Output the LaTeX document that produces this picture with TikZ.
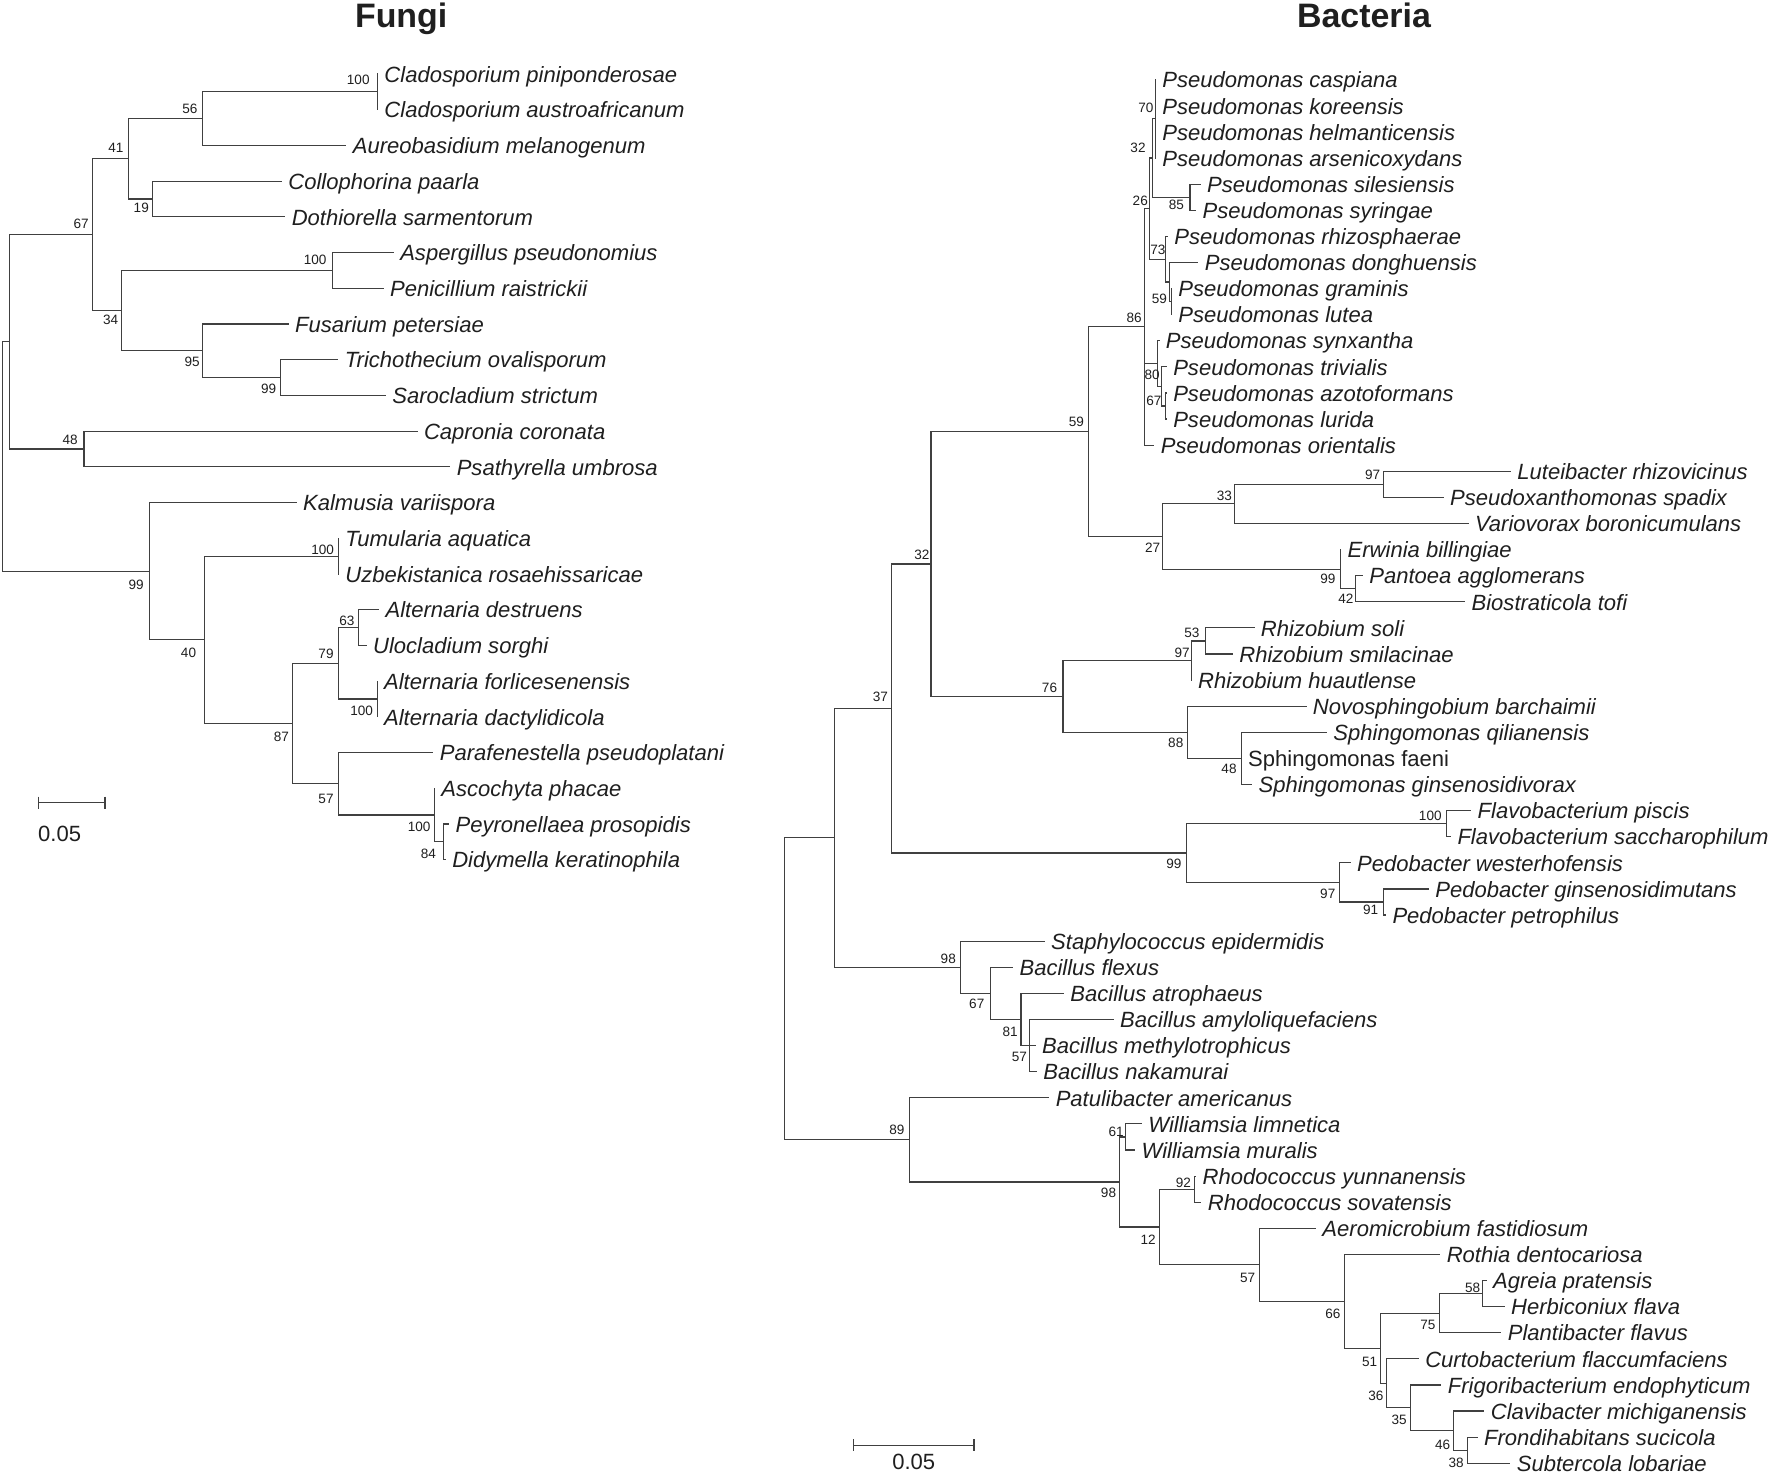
\documentclass[tikz,border=0pt]{standalone}
\usepackage{fontspec}
\setmainfont{Liberation Sans}
\begin{document}
\begin{tikzpicture}[x=1pt,y=-1pt,
  br/.style={draw=black!75,line width=1.0pt,line cap=rect},
  tick/.style={draw=black!75,line width=1.0pt},
  leaf/.style={anchor=base west,inner sep=0pt,xshift=6pt,yshift=-7.3pt,font=\fontsize{19.5}{20}\selectfont\itshape,text=black!88},
  leafup/.style={leaf,font=\fontsize{19.5}{20}\selectfont\upshape},
  bs/.style={inner sep=0pt,font=\fontsize{12}{12}\selectfont,text=black!88},
  ttl/.style={anchor=base,inner sep=0pt,font=\fontsize{30}{30}\selectfont\bfseries,text=black!88},
  scl/.style={inner sep=0pt,font=\fontsize{19.5}{20}\selectfont,text=black!88}
]
\useasboundingbox (0,0) rectangle (1568,1306);
\fill[white] (0,0) rectangle (1568,1306);

% ---------------- titles
\node[ttl] (tf) at (355,24.5) {Fungi};
\node[ttl] (tb) at (1207,24.5) {Bacteria};

% ================= FUNGI =================
\coordinate (F0) at (334,65.5);
\coordinate (F1) at (334,97.1);
\coordinate (F2) at (306,128.7);
\coordinate (F3) at (249,160.3);
\coordinate (F4) at (252,191.9);
\coordinate (F5) at (348,223.5);
\coordinate (F6) at (339,255.1);
\coordinate (F7) at (255,286.7);
\coordinate (F8) at (299,318.3);
\coordinate (F9) at (341,349.9);
\coordinate (F10) at (369,381.5);
\coordinate (F11) at (398,413.1);
\coordinate (F12) at (262,444.7);
\coordinate (F13) at (299.5,476.3);
\coordinate (F14) at (299.5,507.9);
\coordinate (F15) at (335,539.5);
\coordinate (F16) at (324,571.1);
\coordinate (F17) at (333.7,602.7);
\coordinate (F18) at (333.7,634.3);
\coordinate (F19) at (383,665.9);
\coordinate (F20) at (384.4,697.5);
\coordinate (F21) at (397,729.1);
\coordinate (F22) at (394,760.7);

\node[leaf] (tF0) at (F0) {Cladosporium piniponderosae};
\node[leaf] (tF1) at (F1) {Cladosporium austroafricanum};
\node[leaf] (tF2) at (F2) {Aureobasidium melanogenum};
\node[leaf] (tF3) at (F3) {Collophorina paarla};
\node[leaf] (tF4) at (F4) {Dothiorella sarmentorum};
\node[leaf] (tF5) at (F5) {Aspergillus pseudonomius};
\node[leaf] (tF6) at (F6) {Penicillium raistrickii};
\node[leaf] (tF7) at (F7) {Fusarium petersiae};
\node[leaf] (tF8) at (F8) {Trichothecium ovalisporum};
\node[leaf] (tF9) at (F9) {Sarocladium strictum};
\node[leaf] (tF10) at (F10) {Capronia coronata};
\node[leaf] (tF11) at (F11) {Psathyrella umbrosa};
\node[leaf] (tF12) at (F12) {Kalmusia variispora};
\node[leaf] (tF13) at (F13) {Tumularia aquatica};
\node[leaf] (tF14) at (F14) {Uzbekistanica rosaehissaricae};
\node[leaf] (tF15) at (F15) {Alternaria destruens};
\node[leaf] (tF16) at (F16) {Ulocladium sorghi};
\node[leaf] (tF17) at (F17) {Alternaria forlicesenensis};
\node[leaf] (tF18) at (F18) {Alternaria dactylidicola};
\node[leaf] (tF19) at (F19) {Parafenestella pseudoplatani};
\node[leaf] (tF20) at (F20) {Ascochyta phacae};
\node[leaf] (tF21) at (F21) {Peyronellaea prosopidis};
\node[leaf] (tF22) at (F22) {Didymella keratinophila};

\coordinate (fa100c) at (334,81.3);
\coordinate (fa56) at (179.5,105.0);
\coordinate (fa19) at (135,176.1);
\coordinate (fa41) at (114,140.55);
\coordinate (fa100a) at (294,239.3);
\coordinate (fa99t) at (248,334.1);
\coordinate (fa95) at (179.5,310.4);
\coordinate (fa34) at (107.7,274.85);
\coordinate (fa67) at (81.5,207.7);
\coordinate (fa48) at (74.3,397.3);
\coordinate (faR1) at (8.4,302.5);
\coordinate (fa100u) at (299.5,492.1);
\coordinate (fa63) at (317.2,555.3);
\coordinate (fa100f) at (333.7,618.5);
\coordinate (fa79) at (299.5,586.9);
\coordinate (fa84) at (392.8,744.9);
\coordinate (fa100s) at (384.4,721.2);
\coordinate (fa57) at (299.5,693.55);
\coordinate (fa87) at (259,640.2);
\coordinate (fa40) at (180.8,566.15);
\coordinate (fa99k) at (132,505.4);
\coordinate (faroot) at (2.1,404);

\draw[br] (fa100c) |- (F0) (fa100c) |- (F1);
\draw[br] (fa56) |- (fa100c) (fa56) |- (F2);
\draw[br] (fa19) |- (F3) (fa19) |- (F4);
\draw[br] (fa41) |- (fa56) (fa41) |- (fa19);
\draw[br] (fa100a) |- (F5) (fa100a) |- (F6);
\draw[br] (fa99t) |- (F8) (fa99t) |- (F9);
\draw[br] (fa95) |- (F7) (fa95) |- (fa99t);
\draw[br] (fa34) |- (fa100a) (fa34) |- (fa95);
\draw[br] (fa67) |- (fa41) (fa67) |- (fa34);
\draw[br] (fa48) |- (F10) (fa48) |- (F11);
\draw[br] (faR1) |- (fa67) (faR1) |- (fa48);
\draw[br] (fa100u) |- (F13) (fa100u) |- (F14);
\draw[br] (fa63) |- (F15) (fa63) |- (F16);
\draw[br] (fa100f) |- (F17) (fa100f) |- (F18);
\draw[br] (fa79) |- (fa63) (fa79) |- (fa100f);
\draw[br] (fa84) |- (F21) (fa84) |- (F22);
\draw[br] (fa100s) |- (F20) (fa100s) |- (fa84);
\draw[br] (fa57) |- (F19) (fa57) |- (fa100s);
\draw[br] (fa87) |- (fa79) (fa87) |- (fa57);
\draw[br] (fa40) |- (fa100u) (fa40) |- (fa87);
\draw[br] (fa99k) |- (F12) (fa99k) |- (fa40);
\draw[br] (faroot) |- (faR1) (faroot) |- (fa99k);

% fungi bootstrap values
\node[bs] (fb1) at (71.8,197.7) {67};
\node[bs] (fb2) at (102.6,131) {41};
\node[bs] (fb3) at (168,96) {56};
\node[bs] (fb4) at (317,71) {100};
\node[bs] (fb5) at (125,183.5) {19};
\node[bs] (fb6) at (98,282.6) {34};
\node[bs] (fb7) at (278.8,230) {100};
\node[bs] (fb8) at (170,320) {95};
\node[bs] (fb9) at (237.8,343.7) {99};
\node[bs] (fb10) at (62,389.4) {48};
\node[bs] (fb11) at (120.4,517.7) {99};
\node[bs] (fb12) at (166.8,577.6) {40};
\node[bs] (fb13) at (285.5,486.2) {100};
\node[bs] (fb14) at (249,652) {87};
\node[bs] (fb15) at (288.5,578.2) {79};
\node[bs] (fb16) at (307,549) {63};
\node[bs] (fb17) at (320,629) {100};
\node[bs] (fb18) at (288.5,706.5) {57};
\node[bs] (fb19) at (370.9,731.6) {100};
\node[bs] (fb20) at (379,755.2) {84};

% fungi scale bar
\coordinate (fsa) at (33.8,710.4);
\coordinate (fsb) at (92.9,710.4);
\draw[br] (fsa) -- (fsb);
\draw[tick] ([yshift=5.5pt]fsa) -- ([yshift=-5.5pt]fsa);
\draw[tick] ([yshift=5.5pt]fsb) -- ([yshift=-5.5pt]fsb);
\node[scl] (fsl) at (52.8,737.5) {0.05};

% ================= BACTERIA =================
\coordinate (B0) at (1022.4,70.5);
\coordinate (B1) at (1022.4,93.6);
\coordinate (B2) at (1022.4,116.7);
\coordinate (B3) at (1022.4,139.8);
\coordinate (B4) at (1062,162.9);
\coordinate (B5) at (1058,186.0);
\coordinate (B6) at (1033,209.1);
\coordinate (B7) at (1060,232.2);
\coordinate (B8) at (1036.5,255.3);
\coordinate (B9) at (1036.5,278.4);
\coordinate (B10) at (1025.5,301.5);
\coordinate (B11) at (1032,324.6);
\coordinate (B12) at (1032,347.7);
\coordinate (B13) at (1032,370.8);
\coordinate (B14) at (1021,393.9);
\coordinate (B15) at (1336.5,417.0);
\coordinate (B16) at (1277,440.1);
\coordinate (B17) at (1299,463.2);
\coordinate (B18) at (1186.3,486.3);
\coordinate (B19) at (1205.5,509.4);
\coordinate (B20) at (1296,532.5);
\coordinate (B21) at (1109.6,555.6);
\coordinate (B22) at (1090.5,578.7);
\coordinate (B23) at (1054,601.8);
\coordinate (B24) at (1155.6,624.9);
\coordinate (B25) at (1173.7,648.0);
\coordinate (B26) at (1098.3,671.1);
\coordinate (B27) at (1107.5,694.2);
\coordinate (B28) at (1301.4,717.3);
\coordinate (B29) at (1283.5,740.4);
\coordinate (B30) at (1194.7,763.5);
\coordinate (B31) at (1264,786.6);
\coordinate (B32) at (1226,809.7);
\coordinate (B33) at (924,832.8);
\coordinate (B34) at (896,855.9);
\coordinate (B35) at (941,879.0);
\coordinate (B36) at (985,902.1);
\coordinate (B37) at (916,925.2);
\coordinate (B38) at (917,948.3);
\coordinate (B39) at (928,971.4);
\coordinate (B40) at (1010,994.5);
\coordinate (B41) at (1004,1017.6);
\coordinate (B42) at (1058,1040.7);
\coordinate (B43) at (1062.6,1063.8);
\coordinate (B44) at (1164,1086.9);
\coordinate (B45) at (1274,1110.0);
\coordinate (B46) at (1315,1133.1);
\coordinate (B47) at (1331,1156.2);
\coordinate (B48) at (1328,1179.3);
\coordinate (B49) at (1255,1202.4);
\coordinate (B50) at (1275,1225.5);
\coordinate (B51) at (1313,1248.6);
\coordinate (B52) at (1307,1271.7);
\coordinate (B53) at (1336,1294.8);

\node[leaf] (tB0) at (B0) {Pseudomonas caspiana};
\node[leaf] (tB1) at (B1) {Pseudomonas koreensis};
\node[leaf] (tB2) at (B2) {Pseudomonas helmanticensis};
\node[leaf] (tB3) at (B3) {Pseudomonas arsenicoxydans};
\node[leaf] (tB4) at (B4) {Pseudomonas silesiensis};
\node[leaf] (tB5) at (B5) {Pseudomonas syringae};
\node[leaf] (tB6) at (B6) {Pseudomonas rhizosphaerae};
\node[leaf] (tB7) at (B7) {Pseudomonas donghuensis};
\node[leaf] (tB8) at (B8) {Pseudomonas graminis};
\node[leaf] (tB9) at (B9) {Pseudomonas lutea};
\node[leaf] (tB10) at (B10) {Pseudomonas synxantha};
\node[leaf] (tB11) at (B11) {Pseudomonas trivialis};
\node[leaf] (tB12) at (B12) {Pseudomonas azotoformans};
\node[leaf] (tB13) at (B13) {Pseudomonas lurida};
\node[leaf] (tB14) at (B14) {Pseudomonas orientalis};
\node[leaf] (tB15) at (B15) {Luteibacter rhizovicinus};
\node[leaf] (tB16) at (B16) {Pseudoxanthomonas spadix};
\node[leaf] (tB17) at (B17) {Variovorax boronicumulans};
\node[leaf] (tB18) at (B18) {Erwinia billingiae};
\node[leaf] (tB19) at (B19) {Pantoea agglomerans};
\node[leaf] (tB20) at (B20) {Biostraticola tofi};
\node[leaf] (tB21) at (B21) {Rhizobium soli};
\node[leaf] (tB22) at (B22) {Rhizobium smilacinae};
\node[leaf] (tB23) at (B23) {Rhizobium huautlense};
\node[leaf] (tB24) at (B24) {Novosphingobium barchaimii};
\node[leaf] (tB25) at (B25) {Sphingomonas qilianensis};
\node[leafup] (tB26) at (B26) {Sphingomonas faeni};
\node[leaf] (tB27) at (B27) {Sphingomonas ginsenosidivorax};
\node[leaf] (tB28) at (B28) {Flavobacterium piscis};
\node[leaf] (tB29) at (B29) {Flavobacterium saccharophilum};
\node[leaf] (tB30) at (B30) {Pedobacter westerhofensis};
\node[leaf] (tB31) at (B31) {Pedobacter ginsenosidimutans};
\node[leaf] (tB32) at (B32) {Pedobacter petrophilus};
\node[leaf] (tB33) at (B33) {Staphylococcus epidermidis};
\node[leaf] (tB34) at (B34) {Bacillus flexus};
\node[leaf] (tB35) at (B35) {Bacillus atrophaeus};
\node[leaf] (tB36) at (B36) {Bacillus amyloliquefaciens};
\node[leaf] (tB37) at (B37) {Bacillus methylotrophicus};
\node[leaf] (tB38) at (B38) {Bacillus nakamurai};
\node[leaf] (tB39) at (B39) {Patulibacter americanus};
\node[leaf] (tB40) at (B40) {Williamsia limnetica};
\node[leaf] (tB41) at (B41) {Williamsia muralis};
\node[leaf] (tB42) at (B42) {Rhodococcus yunnanensis};
\node[leaf] (tB43) at (B43) {Rhodococcus sovatensis};
\node[leaf] (tB44) at (B44) {Aeromicrobium fastidiosum};
\node[leaf] (tB45) at (B45) {Rothia dentocariosa};
\node[leaf] (tB46) at (B46) {Agreia pratensis};
\node[leaf] (tB47) at (B47) {Herbiconiux flava};
\node[leaf] (tB48) at (B48) {Plantibacter flavus};
\node[leaf] (tB49) at (B49) {Curtobacterium flaccumfaciens};
\node[leaf] (tB50) at (B50) {Frigoribacterium endophyticum};
\node[leaf] (tB51) at (B51) {Clavibacter michiganensis};
\node[leaf] (tB52) at (B52) {Frondihabitans sucicola};
\node[leaf] (tB53) at (B53) {Subtercola lobariae};

\coordinate (bn70) at (1022.4,105.15);
\coordinate (bn85) at (1053,174.45);
\coordinate (bn32p) at (1019.7,139.8);
\coordinate (bngl) at (1036.5,266.85);
\coordinate (bn59p) at (1035,249.5);
\coordinate (bn73) at (1031,229.3);
\coordinate (bn26) at (1017,184.55);
\coordinate (bnal) at (1031,359.25);
\coordinate (bn67p) at (1028,341.9);
\coordinate (bn80) at (1024,321.7);
\coordinate (bn86) at (1013,289.2);
\coordinate (bn97L) at (1224.2,428.55);
\coordinate (bn33) at (1092,445.9);
\coordinate (bn42) at (1199.5,520.95);
\coordinate (bn99E) at (1186.3,503.6);
\coordinate (bn27) at (1028.5,474.75);
\coordinate (bn59) at (963.3,382.0);
\coordinate (bn53) at (1067,567.15);
\coordinate (bn97R) at (1054,584.5);
\coordinate (bn48) at (1098.3,671.1);
\coordinate (bn88) at (1050.6,648.0);
\coordinate (bn76) at (940.6,616.25);
\coordinate (bn32) at (823.8,499.1);
\coordinate (bn100F) at (1279.8,728.85);
\coordinate (bn91) at (1224.2,798.15);
\coordinate (bn97P) at (1185,780.8);
\coordinate (bn99F) at (1050.1,754.8);
\coordinate (bn37) at (789.2,626.95);
\coordinate (bn57B) at (910.6,925.2);
\coordinate (bn81) at (903.5,902.1);
\coordinate (bn67B) at (876.1,879.0);
\coordinate (bn98B) at (849.9,855.9);
\coordinate (bnX) at (738.1,741.4);
\coordinate (bn61) at (996.2,1006.05);
\coordinate (bn92) at (1056.9,1052.25);
\coordinate (bn38) at (1298.3,1283.25);
\coordinate (bn46) at (1286.2,1265.9);
\coordinate (bn35) at (1248,1245.7);
\coordinate (bn36) at (1227,1224.05);
\coordinate (bn58) at (1312,1144.65);
\coordinate (bn75) at (1274,1161.98);
\coordinate (bn51) at (1221.5,1193.0);
\coordinate (bn66) at (1189.5,1151.5);
\coordinate (bn57A) at (1114.2,1119.2);
\coordinate (bn12) at (1025.7,1085.7);
\coordinate (bn98A) at (990.5,1045.9);
\coordinate (bn89) at (805,1008.65);
\coordinate (broot) at (693.9,875.0);

\draw[br] (bn70) |- (B0) (bn70) |- (B1) (bn70) |- (B2) (bn70) |- (B3);
\draw[br] (bn85) |- (B4) (bn85) |- (B5);
\draw[br] (bn32p) |- (bn70) (bn32p) |- (bn85);
\draw[br] (bngl) |- (B8) (bngl) |- (B9);
\draw[br] (bn59p) |- (B7) (bn59p) |- (bngl);
\draw[br] (bn73) |- (B6) (bn73) |- (bn59p);
\draw[br] (bn26) |- (bn32p) (bn26) |- (bn73);
\draw[br] (bnal) |- (B12) (bnal) |- (B13);
\draw[br] (bn67p) |- (B11) (bn67p) |- (bnal);
\draw[br] (bn80) |- (B10) (bn80) |- (bn67p);
\draw[br] (bn86) |- (bn26) (bn86) |- (bn80) (bn86) |- (B14);
\draw[br] (bn97L) |- (B15) (bn97L) |- (B16);
\draw[br] (bn33) |- (bn97L) (bn33) |- (B17);
\draw[br] (bn42) |- (B19) (bn42) |- (B20);
\draw[br] (bn99E) |- (B18) (bn99E) |- (bn42);
\draw[br] (bn27) |- (bn33) (bn27) |- (bn99E);
\draw[br] (bn59) |- (bn86) (bn59) |- (bn27);
\draw[br] (bn53) |- (B21) (bn53) |- (B22);
\draw[br] (bn97R) |- (bn53) (bn97R) |- (B23);
\draw[br] (bn48) |- (B25) (bn48) |- (B26) (bn48) |- (B27);
\draw[br] (bn88) |- (B24) (bn88) |- (bn48);
\draw[br] (bn76) |- (bn97R) (bn76) |- (bn88);
\draw[br] (bn32) |- (bn59) (bn32) |- (bn76);
\draw[br] (bn100F) |- (B28) (bn100F) |- (B29);
\draw[br] (bn91) |- (B31) (bn91) |- (B32);
\draw[br] (bn97P) |- (B30) (bn97P) |- (bn91);
\draw[br] (bn99F) |- (bn100F) (bn99F) |- (bn97P);
\draw[br] (bn37) |- (bn32) (bn37) |- (bn99F);
\draw[br] (bn57B) |- (B36) (bn57B) |- (B37) (bn57B) |- (B38);
\draw[br] (bn81) |- (B35) (bn81) |- (bn57B);
\draw[br] (bn67B) |- (B34) (bn67B) |- (bn81);
\draw[br] (bn98B) |- (B33) (bn98B) |- (bn67B);
\draw[br] (bnX) |- (bn37) (bnX) |- (bn98B);
\draw[br] (bn61) |- (B40) (bn61) |- (B41);
\draw[br] (bn92) |- (B42) (bn92) |- (B43);
\draw[br] (bn38) |- (B52) (bn38) |- (B53);
\draw[br] (bn46) |- (B51) (bn46) |- (bn38);
\draw[br] (bn35) |- (B50) (bn35) |- (bn46);
\draw[br] (bn36) |- (B49) (bn36) |- (bn35);
\draw[br] (bn58) |- (B46) (bn58) |- (B47);
\draw[br] (bn75) |- (bn58) (bn75) |- (B48);
\draw[br] (bn51) |- (bn75) (bn51) |- (bn36);
\draw[br] (bn66) |- (B45) (bn66) |- (bn51);
\draw[br] (bn57A) |- (B44) (bn57A) |- (bn66);
\draw[br] (bn12) |- (bn92) (bn12) |- (bn57A);
\draw[br] (bn98A) |- (bn61) (bn98A) |- (bn12);
\draw[br] (bn89) |- (B39) (bn89) |- (bn98A);
\draw[br] (broot) |- (bnX) (broot) |- (bn89);

% bacteria bootstrap values
\node[bs] (bb1) at (1014,95) {70};
\node[bs] (bb2) at (1007,130.5) {32};
\node[bs] (bb3) at (1009,178) {26};
\node[bs] (bb4) at (1041,181) {85};
\node[bs] (bb5) at (1024.5,221) {73};
\node[bs] (bb6) at (1026,264) {59};
\node[bs] (bb7) at (1003.6,281) {86};
\node[bs] (bb8) at (1019.5,332) {80};
\node[bs] (bb9) at (1021,355) {67};
\node[bs] (bb10) at (952.5,373) {59};
\node[bs] (bb11) at (1214.6,420) {97};
\node[bs] (bb12) at (1083.5,438.7) {33};
\node[bs] (bb13) at (1020,484.7) {27};
\node[bs] (bb14) at (815.8,491) {32};
\node[bs] (bb15) at (1175,512) {99};
\node[bs] (bb16) at (1191,530) {42};
\node[bs] (bb17) at (1054.6,559.6) {53};
\node[bs] (bb18) at (1046,577.3) {97};
\node[bs] (bb19) at (928.7,608.4) {76};
\node[bs] (bb20) at (779,617) {37};
\node[bs] (bb21) at (1040.4,657.2) {88};
\node[bs] (bb22) at (1087.5,680) {48};
\node[bs] (bb23) at (1265.6,722) {100};
\node[bs] (bb24) at (1038.7,764) {99};
\node[bs] (bb25) at (1174.9,790.5) {97};
\node[bs] (bb26) at (1212.9,805.2) {91};
\node[bs] (bb27) at (839.1,848) {98};
\node[bs] (bb28) at (864.3,888) {67};
\node[bs] (bb29) at (893.8,913) {81};
\node[bs] (bb30) at (902,935) {57};
\node[bs] (bb31) at (793.7,1000) {89};
\node[bs] (bb32) at (987.7,1001.4) {61};
\node[bs] (bb33) at (1047.2,1046.6) {92};
\node[bs] (bb34) at (980.9,1055.4) {98};
\node[bs] (bb35) at (1016,1097.3) {12};
\node[bs] (bb36) at (1104,1130.6) {57};
\node[bs] (bb37) at (1303,1139.5) {58};
\node[bs] (bb38) at (1179.5,1162.8) {66};
\node[bs] (bb39) at (1263.5,1172) {75};
\node[bs] (bb40) at (1212,1205) {51};
\node[bs] (bb41) at (1217.5,1235) {36};
\node[bs] (bb42) at (1238,1256) {35};
\node[bs] (bb43) at (1276.5,1278.7) {46};
\node[bs] (bb44) at (1288.5,1294) {38};

% bacteria scale bar
\coordinate (bsa) at (755.1,1278.7);
\coordinate (bsb) at (861.8,1278.7);
\draw[br] (bsa) -- (bsb);
\draw[tick] ([yshift=5pt]bsa) -- ([yshift=-5pt]bsa);
\draw[tick] ([yshift=5pt]bsb) -- ([yshift=-5pt]bsb);
\node[scl] (bsl) at (808.5,1293.5) {0.05};
\end{tikzpicture}
\end{document}
